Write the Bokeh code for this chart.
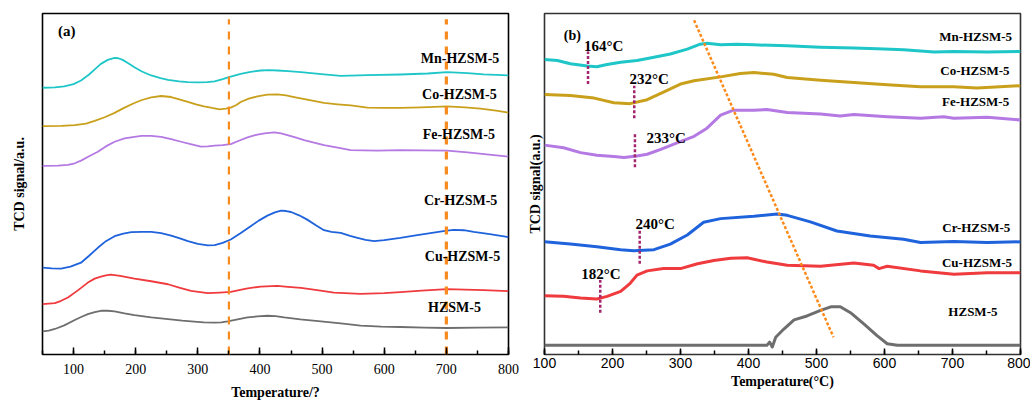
from bokeh.plotting import figure
from bokeh.layouts import row
from bokeh.models import Range1d, SingleIntervalTicker, FixedTicker
from bokeh.core.properties import value
from bokeh.embed import file_html
from bokeh.resources import INLINE

# ---------------- Panel (a) data: temperature (°C) vs TCD signal (a.u.) ----------------
a_T_Mn = [50, 70, 85, 100, 112, 125, 135, 144, 155, 166, 172, 179, 188, 198, 210, 225, 240, 252, 270, 284, 300, 315,
          327, 340, 350, 369, 385, 401, 415, 428, 445, 466, 503, 530, 573, 626, 670, 701, 734, 760, 800]
a_Mn = [805, 806, 809, 816, 827, 845, 862, 877, 889, 895, 894, 889, 879, 867, 854, 842, 834, 829, 824, 822, 821, 822,
        824, 831, 837, 847, 853, 857, 858, 857, 855, 852, 845, 841, 843, 845, 848, 852, 849, 845, 842]
a_T_Co = [50, 80, 102, 120, 134, 150, 166, 182, 198, 210, 225, 241, 257, 270, 284, 297, 310, 323, 335, 345, 353, 362,
          369, 382, 396, 412, 428, 442, 455, 478, 503, 525, 546, 573, 600, 626, 660, 701, 730, 755, 780, 800]
a_Co = [689, 690, 692, 697, 705, 716, 729, 745, 759, 768, 776, 780, 777, 770, 762, 755, 749, 744, 740, 742, 745, 753,
        762, 772, 779, 784, 785, 782, 777, 768, 759, 755, 752, 745, 744, 744, 746, 749, 746, 742, 736, 730]
a_T_Fe = [50, 75, 91, 102, 112, 125, 139, 152, 166, 182, 198, 209, 225, 241, 257, 273, 290, 305, 316, 327, 340, 353,
          366, 380, 394, 407, 423, 434, 444, 457, 471, 487, 503, 525, 546, 589, 626, 660, 701, 734, 765, 800]
a_Fe = [569, 570, 572, 577, 585, 598, 612, 628, 642, 652, 657, 660, 660, 657, 650, 642, 634, 627, 628, 630, 632, 635,
        645, 655, 663, 667, 670, 667, 662, 655, 647, 639, 632, 624, 617, 615, 617, 616, 615, 610, 604, 597]
a_T_Cr = [50, 65, 80, 95, 112, 125, 139, 152, 166, 180, 193, 210, 225, 241, 257, 270, 284, 300, 316, 327, 340, 353,
          368, 385, 398, 412, 424, 434, 442, 450, 463, 476, 490, 503, 515, 530, 545, 557, 570, 584, 600, 626, 648,
          669, 690, 701, 712, 728, 744, 770, 800]
a_Cr = [262, 260, 259, 265, 277, 298, 322, 342, 357, 365, 369, 370, 370, 366, 359, 351, 342, 334, 329, 330, 337, 347,
        365, 387, 404, 419, 429, 434, 433, 430, 420, 407, 390, 375, 370, 367, 358, 352, 346, 342, 345, 352, 359,
        365, 371, 374, 376, 375, 370, 363, 354]
a_T_Cu = [50, 70, 80, 91, 108, 123, 134, 144, 152, 160, 175, 198, 225, 252, 270, 289, 316, 335, 353, 378, 401, 428,
          445, 466, 492, 519, 562, 600, 626, 660, 701, 730, 760, 800]
a_Cu = [152, 155, 162, 172, 195, 217, 229, 235, 239, 241, 237, 229, 221, 212, 202, 192, 185, 187, 189, 199, 205, 207,
        204, 201, 194, 187, 183, 185, 188, 193, 197, 196, 194, 191]
a_T_H = [50, 60, 70, 85, 102, 113, 123, 134, 144, 155, 166, 182, 198, 225, 252, 275, 294, 310, 327, 338, 348, 364,
         380, 396, 412, 425, 439, 465, 498, 530, 562, 595, 626, 665, 701, 750, 800]
a_H = [70, 72, 77, 88, 104, 114, 122, 128, 132, 132, 130, 124, 119, 112, 107, 102, 99, 97, 96, 97, 100, 106,
       112, 115, 117, 116, 112, 106, 100, 94, 87, 84, 83, 81, 80, 81, 82]
a_guides = [350, 700]

# ---------------- Panel (b) data ----------------
b_T_Mn = [100, 119, 138, 163, 177, 192, 212, 236, 261, 285, 310, 329, 339, 359, 383, 408, 457, 506, 555, 589, 628, 673, 702, 751, 800]
b_Mn = [903, 900, 890, 883, 881, 888, 895, 900, 910, 920, 935, 950, 953, 948, 950, 948, 945, 941, 938, 936, 933, 926, 928, 926, 928]
b_T_Co = [100, 138, 173, 202, 226, 251, 275, 300, 320, 359, 388, 408, 437, 457, 506, 555, 604, 653, 702, 736, 800]
b_Co = [796, 793, 785, 771, 768, 780, 803, 828, 838, 850, 860, 863, 858, 848, 840, 833, 826, 820, 820, 816, 823]
b_T_Fe = [100, 128, 153, 177, 202, 217, 236, 251, 271, 295, 320, 339, 359, 378, 408, 427, 457, 506, 535, 555, 604, 653, 687, 702, 751, 800]
b_Fe = [641, 633, 618, 610, 606, 603, 608, 613, 628, 648, 668, 693, 733, 748, 748, 750, 741, 736, 730, 735, 728, 723, 728, 723, 726, 718]
b_T_Cr = [100, 138, 177, 212, 231, 261, 285, 310, 334, 359, 408, 442, 457, 491, 530, 579, 628, 653, 702, 751, 800]
b_Cr = [345, 338, 330, 321, 318, 321, 338, 366, 405, 416, 423, 430, 426, 406, 378, 363, 353, 343, 346, 343, 345]
b_T_Cu = [100, 128, 153, 177, 192, 212, 226, 236, 251, 275, 300, 325, 349, 374, 398, 427, 457, 506, 555, 584, 592, 604, 653, 702, 751, 800]
b_Cu = [180, 178, 173, 170, 178, 193, 218, 243, 256, 263, 263, 278, 288, 295, 296, 283, 273, 270, 280, 273, 263, 270, 256, 246, 250, 250]
b_T_H = [100, 200, 300, 427, 431, 435, 440, 452, 467, 486, 506, 521, 535, 550, 570, 589, 604, 619, 700, 800]
b_H = [28, 28, 28, 28, 38, 23, 53, 78, 106, 118, 135, 146, 146, 128, 93, 58, 33, 28, 28, 28]

onset_T = [164, 232, 233, 240, 182]
onset_labels = ["164°C", "232°C", "233°C", "240°C", "182°C"]
onset_y0 = [828, 723, 573, 278, 128]
onset_y1 = [928, 823, 678, 383, 228]
shift_T = [320, 525]
shift_y = [1023, 53]

samples = ["Mn-HZSM-5", "Co-HZSM-5", "Fe-HZSM-5", "Cr-HZSM-5", "Cu-HZSM-5", "HZSM-5"]
colors = ["#1fc6c8", "#c9a01c", "#b479e2", "#1f63dc", "#ef3a3e", "#6e6e6e"]

SERIF = value("Liberation Serif")


def style(p, tick_font, tick_size):
    p.outline_line_color = "black"
    p.outline_line_width = 1.6
    p.xgrid.visible = False
    p.ygrid.visible = False
    p.background_fill_color = "white"
    p.border_fill_color = "white"
    for ax in p.xaxis:
        ax.axis_line_color = None
        ax.major_tick_in = 7
        ax.major_tick_out = 0
        ax.minor_tick_in = 4
        ax.minor_tick_out = 0
        ax.major_tick_line_width = 1.5
        ax.minor_tick_line_width = 1.5
        ax.major_label_text_font = tick_font
        ax.major_label_text_font_size = tick_size
        ax.major_label_text_color = "black"
        ax.major_label_text_line_height = 1.0
        ax.axis_label_text_line_height = 1.0
    for ax in p.yaxis:
        ax.ticker = FixedTicker(ticks=[])
        ax.axis_line_color = None
        ax.major_tick_in = 0
        ax.major_tick_out = 0
        ax.minor_tick_in = 0
        ax.minor_tick_out = 0
        ax.major_label_standoff = 0
    for ax in p.axis:
        ax.axis_label_text_font = "Liberation Serif"
        ax.axis_label_text_font_style = "bold"
        ax.axis_label_text_font_size = "14px"
        ax.axis_label_text_color = "black"


# ---------------- Panel (a) ----------------
pa = figure(width=520, height=402, output_backend="svg", toolbar_location=None,
            x_range=Range1d(50, 800), y_range=Range1d(0, 1029),
            min_border_left=42, min_border_right=12, min_border_top=13, min_border_bottom=30)
style(pa, "Liberation Serif", "14px")
pa.xaxis.ticker = SingleIntervalTicker(interval=100, num_minor_ticks=2)
pa.xaxis.axis_label = "Temperature/?"
pa.yaxis.axis_label = "TCD signal/a.u."
pa.xaxis.major_label_standoff = 9
pa.xaxis.axis_label_standoff = 8
pa.yaxis.axis_label_standoff = 16

a_series = [(a_T_Mn, a_Mn), (a_T_Co, a_Co), (a_T_Fe, a_Fe), (a_T_Cr, a_Cr), (a_T_Cu, a_Cu), (a_T_H, a_H)]
for (t, s), c in zip(a_series, colors):
    pa.line(t, s, line_color=c, line_width=1.8, line_join="round")

pa.segment(x0=a_guides, y0=[0, 0], x1=a_guides, y1=[1012, 1012],
           line_color="#f98a1e", line_width=[2.2, 3.2], line_dash="8 7")

pa.text(x=[722, 721, 720, 723, 726, 713], y=[894, 784, 664, 464, 295, 142], text=samples,
        text_font=SERIF, text_font_style="bold", text_font_size="14px",
        text_align="center", text_baseline="middle", text_color="black")
pa.text(x=[89], y=[977], text=["(a)"], text_font=SERIF, text_font_style="bold",
        text_font_size="15px", text_align="center", text_baseline="middle", text_color="black")

# ---------------- Panel (b) ----------------
pb = figure(width=510, height=402, output_backend="svg", toolbar_location=None,
            x_range=Range1d(100, 800), y_range=Range1d(0, 1044),
            min_border_left=24, min_border_right=10, min_border_top=11, min_border_bottom=43)
style(pb, "Liberation Sans", "14px")
pb.outline_line_color = "#333333"
pb.xaxis.ticker = SingleIntervalTicker(interval=100, num_minor_ticks=2)
pb.xaxis.axis_label = "Temperature(°C)"
pb.yaxis.axis_label = "TCD signal(a.u.)"
pb.xaxis.major_label_standoff = 3
pb.xaxis.axis_label_standoff = 3
pb.yaxis.axis_label_standoff = 2
pb.xaxis.major_tick_in = 6

b_series = [(b_T_Mn, b_Mn), (b_T_Co, b_Co), (b_T_Fe, b_Fe), (b_T_Cr, b_Cr), (b_T_Cu, b_Cu), (b_T_H, b_H)]
for (t, s), c in zip(b_series, colors):
    pb.line(t, s, line_color=c, line_width=3, line_join="round")

pb.line(shift_T, shift_y, line_color="#ff8a1a", line_width=2.5, line_dash="3 2")
pb.segment(x0=onset_T, y0=onset_y0, x1=onset_T, y1=onset_y1,
           line_color="#a3256e", line_width=2.5, line_dash="3 2")
pb.text(x=[158, 225, 250, 234, 154], y=[943, 843, 663, 401, 245], text=onset_labels,
        text_font=SERIF, text_font_style="bold", text_font_size="15px",
        text_align="left", text_baseline="middle", text_color="black")
pb.text(x=[734, 733, 734, 735, 736, 730], y=[975, 868, 776, 390, 281, 133], text=samples,
        text_font=SERIF, text_font_style="bold", text_font_size="13px",
        text_align="center", text_baseline="middle", text_color="black")
pb.text(x=[141], y=[978], text=["(b)"], text_font=SERIF, text_font_style="bold",
        text_font_size="14px", text_align="center", text_baseline="middle", text_color="black")

layout = row(pa, pb)
open("out.html", "w").write(file_html(layout, INLINE))
